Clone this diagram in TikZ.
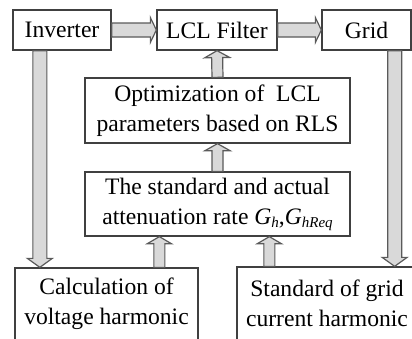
\documentclass[tikz,border=0pt]{standalone}
\usepackage{fontspec}
\setmainfont{Liberation Serif}
\usetikzlibrary{calc}
\definecolor{arrfill}{HTML}{D9D9D9}
\definecolor{arrline}{HTML}{5A5A5A}
\definecolor{boxline}{HTML}{404040}
\newcommand{\mysub}[1]{\raisebox{-0.12em}{\fontsize{15}{15}\selectfont\itshape #1}}
\newcommand{\blockarrow}[5]{%
  \filldraw[barrow] let \p1=#1, \p2=#2,
    \n1={atan2(\y2-\y1,\x2-\x1)}, \n2={veclen(\x2-\x1,\y2-\y1)} in
    [shift={(\p1)}, rotate=\n1]
    (0,-#3) -- ({\n2-#5},-#3) -- ({\n2-#5},-#4) -- (\n2,0)
    -- ({\n2-#5},#4) -- ({\n2-#5},#3) -- (0,#3) -- cycle;}
\tikzset{
  box/.style={draw=boxline, line width=1.3pt, fill=white, inner sep=0pt,
    align=center, font=\fontsize{23.6}{30}\selectfont},
  barrow/.style={fill=arrfill, draw=arrline, line width=1.2pt, line join=miter}
}
\begin{document}
\begin{tikzpicture}[x=1pt, y=-1pt]
\useasboundingbox (0,0) rectangle (412,338);
\clip (0,0) rectangle (412,338);
\node[box, minimum width=98pt, minimum height=40pt] (Inverter) at (62,30) {Inverter};
\node[box, minimum width=120pt, minimum height=40pt] (LCL) at (217,30) {LCL Filter};
\node[box, minimum width=89pt, minimum height=40pt] (Grid) at (366.5,30) {Grid};
\node[box, minimum width=265pt, minimum height=65pt] (Opt) at (217.5,110.5)
  {Optimization of~~LCL\\parameters based on RLS};
\node[box, minimum width=265pt, minimum height=64pt] (Std) at (217.5,204)
  {The standard and actual\\attenuation rate \textit{G}\mysub{h},\textit{G}\mysub{hReq}};
\node[box, minimum width=183pt, minimum height=72pt] (Calc) at (106.5,304)
  {Calculation of\\voltage harmonic};
\node[box, minimum width=180pt, minimum height=73pt] (StdG) at (327,303.5)
  {Standard of grid\\current harmonic};

\coordinate (d1s) at ([xshift=27.5pt]Inverter.south west);
\coordinate (d1e) at (d1s |- Calc.north);
\coordinate (d2s) at ([xshift=-17pt]Grid.south east);
\coordinate (d2e) at (d2s |- StdG.north);
\coordinate (u1s) at ([xshift=145pt]Calc.north west);
\coordinate (u1e) at (u1s |- Std.south);
\coordinate (u2s) at ([xshift=33pt]StdG.north west);
\coordinate (u2e) at (u2s |- Std.south);

\blockarrow{(Inverter.east)}{(LCL.west)}{7}{12.5}{6}
\blockarrow{(LCL.east)}{(Grid.west)}{7}{12.5}{6}
\blockarrow{(Opt.north)}{(LCL.south)}{5.5}{12.5}{7}
\blockarrow{(Std.north)}{(Opt.south)}{5.5}{12.5}{7}
\blockarrow{(d1s)}{(d1e)}{7}{12.5}{9}
\blockarrow{(d2s)}{(d2e)}{7}{12.5}{9}
\blockarrow{(u1s)}{(u1e)}{5.5}{12}{7}
\blockarrow{(u2s)}{(u2e)}{5.5}{12}{7}
\end{tikzpicture}
\end{document}
